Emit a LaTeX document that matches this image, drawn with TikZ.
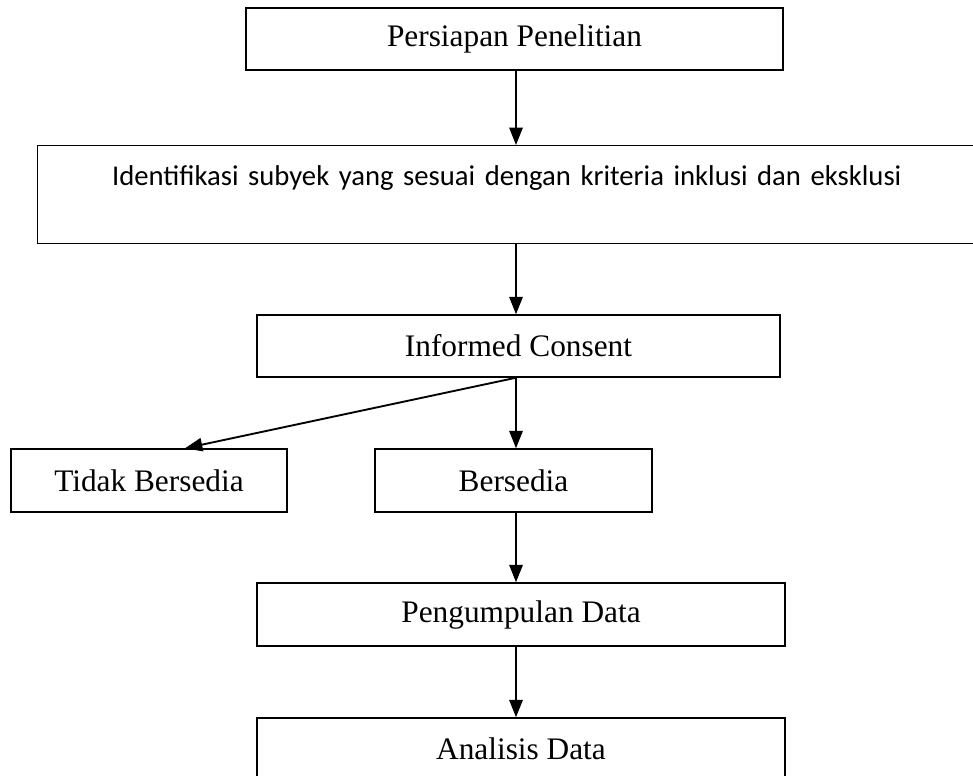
\documentclass[tikz,border=0pt]{standalone}
\usepackage{fontspec}
\setmainfont{Liberation Serif}
\newfontfamily\calib{Carlito}
\usetikzlibrary{arrows.meta,calc}
\begin{document}
\begin{tikzpicture}[x=0.75pt,y=-0.75pt,
  box/.style={draw,line width=1.1pt,rectangle,inner sep=0pt,align=center,font=\fontsize{23.5}{28}\selectfont},
  arr/.style={line width=1.4pt,-{Triangle[length=13pt,width=10pt]}}]
\useasboundingbox (0,0) rectangle (973,775);
\node[box,minimum width=537*0.75pt,minimum height=62*0.75pt] (A) at (514.5,39) {Persiapan Penelitian};
\node[box,minimum width=963*0.75pt,anchor=north west,text height=40*0.75pt,text depth=58*0.75pt,text width=963*0.75pt,font=\calib\fontsize{21.5}{26}\selectfont] (B) at (37,145) {\hspace*{-18.75pt}Identifikasi subyek yang sesuai dengan kriteria inklusi dan eksklusi};
\node[box,minimum width=523*0.75pt,minimum height=62*0.75pt] (C) at (518.5,346) {Informed Consent};
\node[box,minimum width=276*0.75pt,minimum height=63*0.75pt] (D) at (149,480.5) {Tidak Bersedia};
\node[box,minimum width=277*0.75pt,minimum height=63*0.75pt] (E) at (513.5,480.5) {Bersedia};
\node[box,minimum width=528*0.75pt,minimum height=63*0.75pt] (F) at (521,614.5) {Pengumpulan Data};
\node[box,minimum width=528*0.75pt,minimum height=62*0.75pt] (G) at (521,749) {Analisis Data};
\coordinate (ax) at (516,0);
\coordinate (td) at ($(D.north)+(36,0)$);
\draw[arr] (A.south -| ax) -- (B.north -| ax);
\draw[arr] (B.south -| ax) -- (C.north -| ax);
\draw[arr] (C.south -| ax) -- (td);
\draw[arr] (C.south -| ax) -- (E.north -| ax);
\draw[arr] (E.south -| ax) -- (F.north -| ax);
\draw[arr] (F.south -| ax) -- (G.north -| ax);
\end{tikzpicture}
\end{document}
